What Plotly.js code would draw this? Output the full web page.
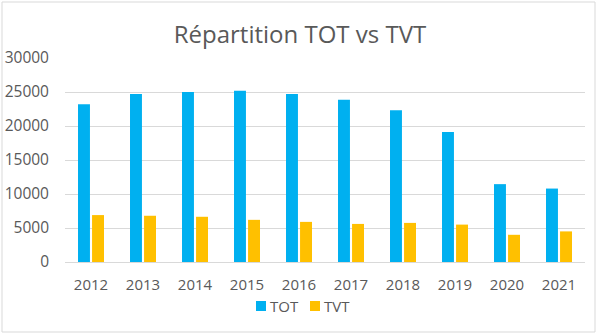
<!DOCTYPE html>
<html><head><meta charset="utf-8">
<script src="https://cdn.plot.ly/plotly-3.0.1.min.js"></script>
<style>html,body{margin:0;padding:0;background:#fff}#c{width:600px;height:335px}</style>
</head><body><div id="c"></div>
<script>
const years = ['2012','2013','2014','2015','2016','2017','2018','2019','2020','2021'];
const tot = [23200, 24700, 25000, 25200, 24700, 23850, 22300, 19100, 11450, 10800];
const tvt = [6900, 6800, 6650, 6200, 5900, 5600, 5750, 5500, 4000, 4500];
const yTicks = [0, 5000, 10000, 15000, 20000, 25000, 30000];
const yTickText = ['0', '5000', '10000', '15000', '20000', '25000', '30000'];
const seriesNames = ['TOT', 'TVT'];
const seriesColors = ['#00B0F0', '#FFC000'];

const font = 'Open Sans, Liberation Sans, sans-serif';
const L = 65, R = 15, T = 58, B = 73, W = 600, H = 335;
const pw = W - L - R, ph = H - T - B;
const px = x => (x - L) / pw;
const py = y => (H - B - y) / ph;

const data = [
  {type:'bar', name:seriesNames[0], x:years, y:tot, marker:{color:seriesColors[0]}, hoverinfo:'none', showlegend:false},
  {type:'bar', name:seriesNames[1], x:years, y:tvt, marker:{color:seriesColors[1]}, hoverinfo:'none', showlegend:false}
];

// custom legend (square + label)
const legX = [256, 310];
const shapes = [{type:'rect', xref:'paper', yref:'paper', x0:px(2), x1:px(595), y0:py(332), y1:py(2), line:{color:'#D9D9D9', width:1}}];
const annotations = [];
seriesNames.forEach((n, i) => {
  shapes.push({type:'rect', xref:'paper', yref:'paper', x0:px(legX[i]), x1:px(legX[i] + 10), y0:py(311), y1:py(301), fillcolor:seriesColors[i], line:{width:0}});
  annotations.push({xref:'paper', yref:'paper', x:px(legX[i] + 12), y:py(306), xanchor:'left', yanchor:'middle', text:n, showarrow:false, font:{family:font, size:15, color:'#595959'}});
});

const layout = {
  width:W, height:H,
  margin:{l:L, r:R, t:T, b:B},
  paper_bgcolor:'#fff', plot_bgcolor:'#fff',
  font:{family:font, color:'#595959', size:15},
  showlegend:false,
  title:{text:'Répartition TOT vs TVT', font:{family:font, size:24, color:'#595959'}, x:0.5, xanchor:'center', yref:'container', y:1-35/335, yanchor:'middle'},
  barmode:'group', bargap:0.46, bargroupgap:0.15,
  xaxis:{type:'category', showgrid:false, zeroline:false, showline:true, linecolor:'#D9D9D9', ticks:'', tickfont:{size:15, color:'#595959'}, ticklabelstandoff:9},
  yaxis:{range:[0,30000], tickvals:yTicks, ticktext:yTickText, showgrid:true, gridcolor:'#D9D9D9', gridwidth:1, zeroline:false, showline:false, ticks:'', tickfont:{size:15.5, color:'#595959'}, ticklabelstandoff:15},
  shapes:shapes,
  annotations:annotations
};
Plotly.newPlot('c', data, layout, {displayModeBar:false, staticPlot:true});
</script></body></html>
